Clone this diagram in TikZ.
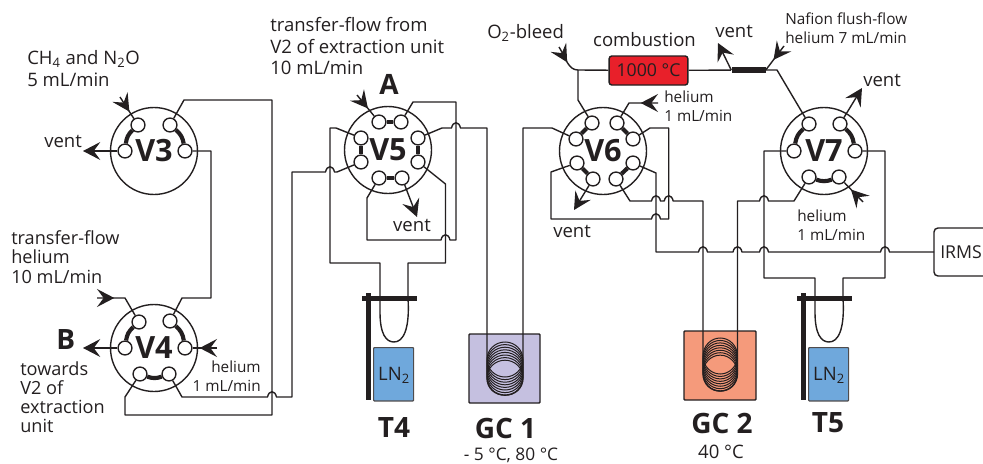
\documentclass[tikz,border=0pt]{standalone}
\usepackage{fontspec}
\setmainfont{Open Sans}
\usetikzlibrary{arrows.meta,decorations.markings}
\definecolor{ink}{HTML}{231F20}
\definecolor{lnblue}{HTML}{6FA8DC}
\definecolor{gcone}{HTML}{C5C0E0}
\definecolor{gctwo}{HTML}{F59A7B}
\definecolor{furnace}{HTML}{E8202A}
\newcommand{\hopr}[2]{-- ({#1-4.5},#2) .. controls ({#1-3},{#2-7}) and ({#1+3},{#2-7}) .. ({#1+4.5},#2)}
\newcommand{\ringset}[5]{\foreach \k in {0,...,7}{\draw[ringline] (#1,{#2+\k*#3}) ellipse [x radius=#4,y radius=#5];}}
\tikzset{
  flowtip/.tip={Stealth[length=13pt,width=13.5pt,inset=5pt]},
  pipe/.style={draw=ink,line width=1.05pt,line join=round},
  ringline/.style={draw=ink,line width=0.75pt},
  link/.style={draw=ink,line width=3.1pt},
  outflow/.style={pipe,-{flowtip}},
  inflow/.style={pipe,postaction={decorate},decoration={markings,mark=at position 13pt with {\arrow{flowtip}}}},
  valve/.style={circle,draw=ink,line width=1.05pt,minimum size=65.25pt,inner sep=0pt,font=\fontsize{23}{26}\selectfont\bfseries,text=ink},
  port/.style={circle,draw=ink,fill=white,line width=1.05pt,minimum size=10.4pt,inner sep=0pt},
  lab/.style={inner sep=0pt,align=left,text=ink,font=\fontsize{13.9}{16}\selectfont},
  labs/.style={inner sep=0pt,align=left,text=ink,font=\fontsize{11.5}{14}\selectfont},
  big/.style={inner sep=0pt,text=ink,font=\fontsize{21}{25}\selectfont\bfseries},
  lnbox/.style={draw=ink!80,fill=lnblue,line width=0.9pt,rounded corners=0.6pt,anchor=north west},
  gcbox/.style={draw=ink,line width=1.05pt,rounded corners=0.6pt},
  stand/.style={fill=ink,draw=none},
}
\begin{document}
\begin{tikzpicture}[x=0.75pt,y=-0.75pt]
\useasboundingbox (0,0) rectangle (983,464);
% ovens and dewars
\draw[gcbox,fill=gcone] (469,334) rectangle (540,403);
\draw[gcbox,fill=gctwo] (684,331) rectangle (756,400);
\node[lnbox,minimum width=30pt,minimum height=40pt] (lna) at (373,347) {};
\node[lnbox,minimum width=30pt,minimum height=40pt] (lnb) at (808,347) {};
\node[lab] at (394,375) (lnat) {LN\textsubscript{2}};
\node[lab] at (829,375) (lnbt) {LN\textsubscript{2}};
\ringset{505}{359.5}{2.6}{18}{17.5}
\ringset{720.25}{356}{2.45}{17.25}{18}
% valves
\node[valve] (v3) at (154,151) {V3};
\node[valve] (v4) at (154,348) {V4};
\node[valve] (v5) at (388,150) {V5};
\node[valve] (v6) at (603,151) {V6};
\node[valve] (v7) at (824,151) {V7};
% ports
\node[port] (v3ul) at (138,125) {};
\node[port] (v3ur) at (170,125) {};
\node[port] (v3l) at (125,151) {};
\node[port] (v3r) at (185,151) {};
\node[port] (v4ul) at (139,322) {};
\node[port] (v4ur) at (170,321) {};
\node[port] (v4l) at (125,348) {};
\node[port] (v4r) at (185,348) {};
\node[port] (v4ll) at (140,374) {};
\node[port] (v4lr) at (169,374) {};
\node[port] (v5tl) at (379,122) {};
\node[port] (v5tr) at (401,122) {};
\node[port] (v5lu) at (361,138) {};
\node[port] (v5ll) at (361,162) {};
\node[port] (v5ru) at (418,138) {};
\node[port] (v5rl) at (418,162) {};
\node[port] (v5bl) at (379,178) {};
\node[port] (v5br) at (402,178) {};
\node[port] (v6tl) at (592,123) {};
\node[port] (v6tr) at (617,123) {};
\node[port] (v6lu) at (576,139) {};
\node[port] (v6ll) at (577,163) {};
\node[port] (v6ru) at (633,139) {};
\node[port] (v6rl) at (633,163) {};
\node[port] (v6bl) at (593,179) {};
\node[port] (v6br) at (616,179) {};
\node[port] (v7tl) at (809,124) {};
\node[port] (v7tr) at (840,124) {};
\node[port] (v7l) at (794,151) {};
\node[port] (v7r) at (855,151) {};
\node[port] (v7ll) at (809,177) {};
\node[port] (v7lr) at (839,177) {};
% rotor links
\draw[link] (v3l) to[bend left=20] (v3ul);
\draw[link] (v3r) to[bend right=20] (v3ur);
\draw[link] (v4l) to[bend left=20] (v4ul);
\draw[link] (v4r) to[bend right=20] (v4ur);
\draw[link] (v4ll) to[bend right=20] (v4lr);
\draw[link] (v5tl) -- (v5tr);
\draw[link] (v5lu) -- (v5ll);
\draw[link] (v5ru) -- (v5rl);
\draw[link] (v5bl) -- (v5br);
\draw[link] (v6tl) -- (v6lu);
\draw[link] (v6tr) -- (v6ru);
\draw[link] (v6ll) -- (v6bl);
\draw[link] (v6rl) -- (v6br);
\draw[link] (v7l) to[bend left=20] (v7tl);
\draw[link] (v7r) to[bend right=20] (v7tr);
\draw[link] (v7ll) to[bend right=20] (v7lr);
% other parts
\node[draw=ink,fill=furnace,line width=1.05pt,rounded corners=2pt,minimum width=59pt,minimum height=21.75pt,inner sep=0pt,font=\fontsize{13.3}{16}\selectfont,text=ink] (fur) at (648.5,70.5) {1000 °C};
\node[fill=ink,minimum width=25.5pt,minimum height=4.5pt,inner sep=0pt] (naf) at (748.5,70) {};
\node[inner xsep=4.5pt,inner ysep=0pt,text=ink,font=\fontsize{13.3}{16}\selectfont,minimum height=30pt,anchor=west] (irms) at (934,252) {IRMS};
\draw[pipe,rounded corners=3pt] (983,228) -- (934,228) -- (934,276) -- (983,276);
% free ends
\coordinate (v3in) at (120,97);
\coordinate (v3vent) at (83,151);
\coordinate (v4in) at (97,298);
\coordinate (v4rin) at (217,348);
\coordinate (v4vent) at (83,348);
\coordinate (v5in) at (357,95);
\coordinate (v5vent) at (417,217);
\coordinate (v6in) at (658,103);
\coordinate (v6vent) at (574,210);
\coordinate (v7in) at (863,202);
\coordinate (v7vent) at (862,88);
\coordinate (o2in) at (559,47);
\coordinate (j) at (578,70);
\coordinate (nafvent) at (718,43);
\coordinate (nafin) at (784,46);
% connectors
\draw[inflow] (v3in) -- (v3ul);
\draw[outflow] (v3l) -- (v3vent);
\draw[pipe] (v3r) -- (211,151) -- (211,298) -- (182,298) -- (v4ur);
\draw[pipe] (v3ur) -- (184,100) -- (272,100) -- (272,415) -- (125,415) -- (125,397) -- (v4ll);
\draw[inflow] (v4in) -- (125,298) -- (v4ul);
\draw[inflow] (v4rin) -- (v4r);
\draw[outflow] (v4l) -- (v4vent);
\draw[pipe] (v4lr) -- (182,397) \hopr{272}{397} -- (292,397) -- (292,172) \hopr{330}{172} -- (337,172) -- (v5ll);
\draw[inflow] (v5in) -- (v5tl);
\draw[outflow] (v5br) -- (v5vent);
\draw[pipe] (v5bl) -- (367,198) -- (367,240) \hopr{445.5}{240} -- (456,240) -- (456,102) -- (413,102) -- (v5tr);
\draw[pipe] (v5lu) -- (336,128) -- (330,128) -- (330,263) -- (380,263) -- (380,312) .. controls (380,334) and (386,342) .. (394,342) .. controls (403,342) and (410,330) .. (408,298) -- (408,263) -- (445.5,263) -- (445.5,184) -- (v5rl);
\draw[pipe] (v5ru) -- (442,128) \hopr{456}{128} -- (487,128) -- (487,377.5) .. controls (487,401) and (523,401) .. (523,377.5) -- (523,128) -- (552,128) -- (v6lu);
\draw[pipe] (v6ll) -- (565,167) -- (551,172) -- (551,219) \hopr{656}{219} -- (668.7,219) -- (668.7,128) -- (650,128) -- (v6ru);
\draw[inflow] (v6in) -- (629,103) -- (v6tr);
\draw[outflow] (v6bl) -- (v6vent);
\draw[pipe] (v6tl) -- (578,100) -- (j);
\draw[inflow] (o2in) .. controls (566,58) and (568,70) .. (j);
\draw[pipe] (j) -- (fur);
\draw[pipe] (fur) -- (naf);
\draw[outflow] (naf.west) -- (nafvent);
\draw[inflow] (nafin) -- (naf.east);
\draw[pipe] (naf) -- (777,70) -- (v7tl);
\draw[pipe] (v6rl) -- (656,173) -- (656,252) \hopr{703}{252} \hopr{737.5}{252} \hopr{764}{252} \hopr{885}{252} -- (irms.west);
\draw[pipe] (v6br) -- (630,201) \hopr{656}{201} \hopr{668.7}{201} -- (703,201) -- (703,373) .. controls (703,397) and (737.5,397) .. (737.5,373) -- (737.5,201) \hopr{764}{201} -- (794,201) -- (v7ll);
\draw[pipe] (v7l) -- (764,151) -- (764,278) -- (815,278) -- (815,312) .. controls (815,334) and (821,342) .. (829,342) .. controls (838,342) and (845,330) .. (843,298) -- (843,278) -- (885,278) -- (885,151) -- (v7r);
\draw[inflow] (v7in) -- (v7lr);
\draw[outflow] (v7tr) -- (v7vent);
% stands
\fill[stand] (362,295.5) rectangle (417,300.5);
\fill[stand] (365.5,293) rectangle (370.5,400);
\fill[stand] (797,295.5) rectangle (852,300.5);
\fill[stand] (800.5,293) rectangle (805.5,400);
% labels
\node[lab,anchor=west] (t1) at (27,68.5) {CH\textsubscript{4} and N\textsubscript{2}O\\5 mL/min};
\node[lab,anchor=west] (t2) at (44,141) {vent};
\node[lab,anchor=west,font=\fontsize{13.6}{14.6}\selectfont] (t3) at (11,257) {transfer-flow\\helium\\10 mL/min};
\node[big,anchor=west] (t4) at (56,340) {B};
\node[lab,anchor=west,font=\fontsize{13.6}{14.2}\selectfont] (t5) at (20,397) {towards\\V2 of\\extraction\\unit};
\node[labs,anchor=east,align=right] (t6) at (261,376.5) {helium\\1 mL/min};
\node[lab,anchor=west] (t7) at (270,46) {transfer-flow from\\V2 of extraction unit\\10 mL/min};
\node[big] (t8) at (389,84) {A};
\node[lab] (t9) at (412,225) {vent};
\node[big] (t10) at (394,428) {T4};
\node[big] (t11) at (505.5,428) {GC 1};
\node[lab,font=\fontsize{13}{16}\selectfont] (t12) at (511,455) {- 5 °C, 80 °C};
\node[lab,anchor=west] (t13) at (553,231) {vent};
\node[lab,anchor=west] (t14) at (487,33) {O\textsubscript{2}-bleed};
\node[lab] (t15) at (644.5,40) {combustion};
\node[lab,anchor=west] (t16) at (715,31) {vent};
\node[labs,anchor=west] (t17) at (785,28) {Nafion flush-flow\\helium 7 mL/min};
\node[labs,anchor=west] (t18) at (664,106) {helium\\1 mL/min};
\node[lab,anchor=west] (t19) at (863,80) {vent};
\node[labs,anchor=west] (t20) at (797,225.5) {helium\\1 mL/min};
\node[big] (t21) at (722,423) {GC 2};
\node[lab] (t22) at (721,452) {40 °C};
\node[big] (t23) at (828,423) {T5};
\end{tikzpicture}
\end{document}
